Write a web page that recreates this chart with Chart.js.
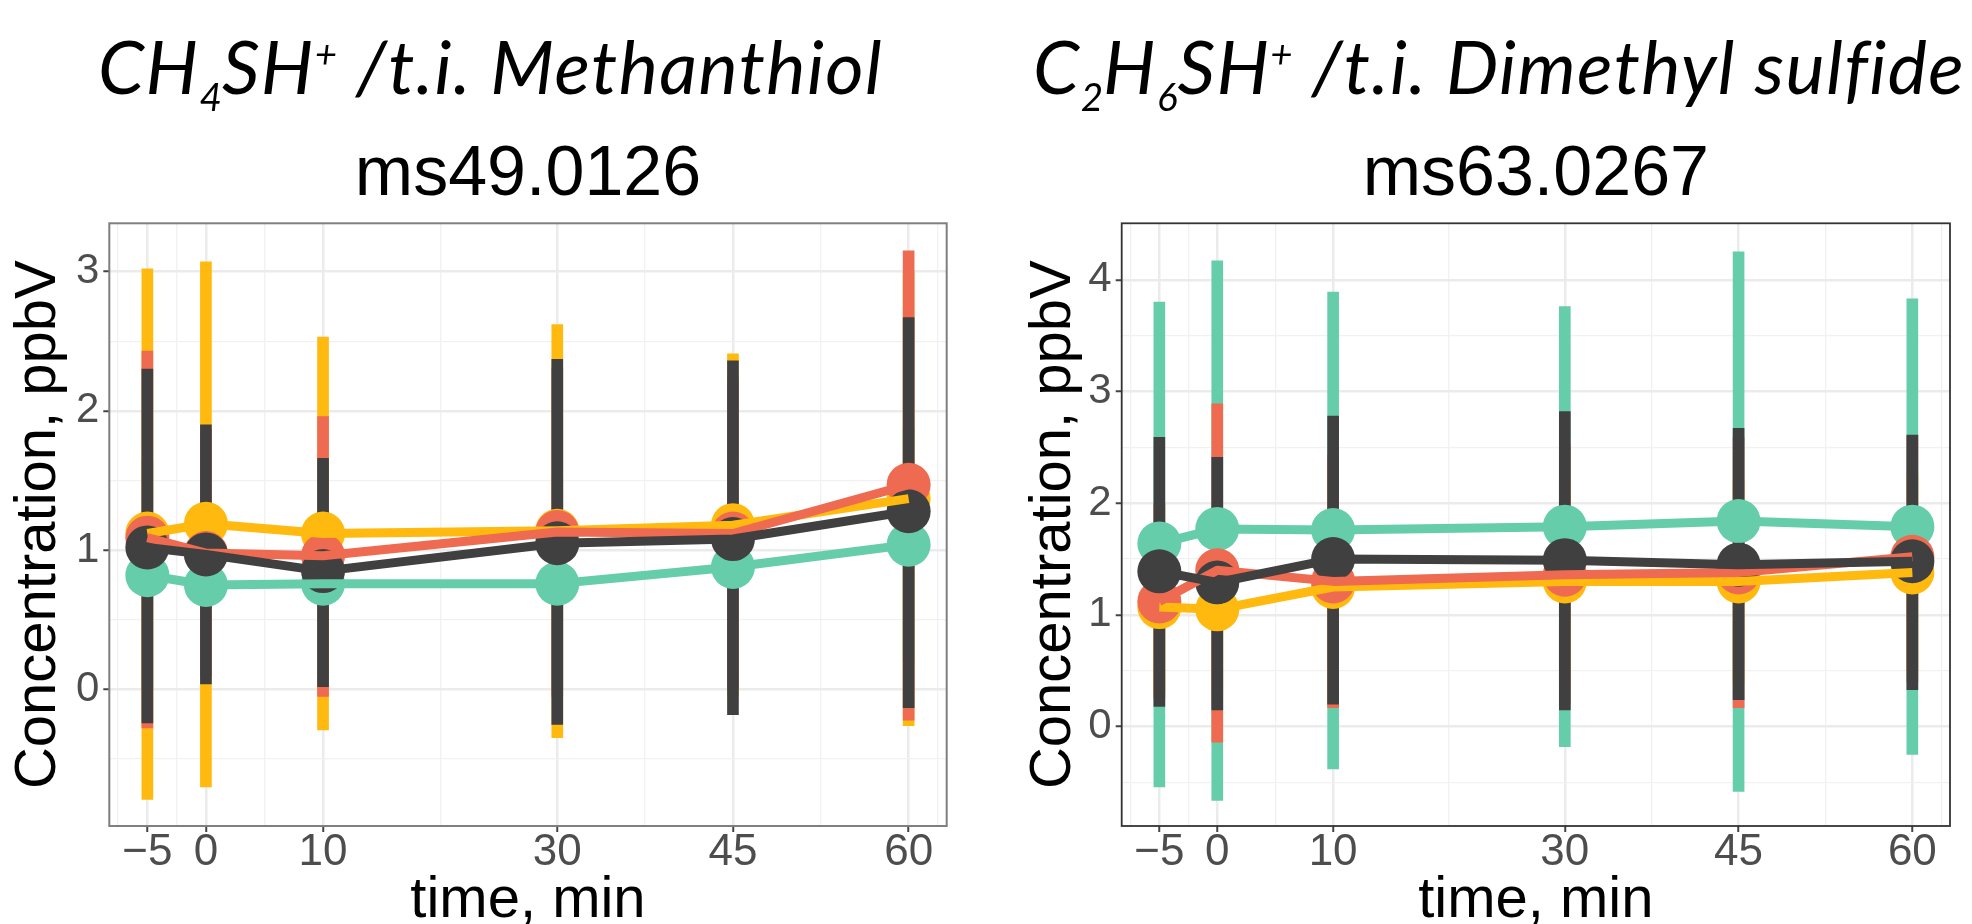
<!DOCTYPE html>
<html>
<head>
<meta charset="utf-8">
<script src="https://cdn.jsdelivr.net/npm/chart.js@4.4.1/dist/chart.umd.min.js"></script>
<style>
  html, body { margin: 0; padding: 0; background: #fff; }
  body { width: 1972px; height: 924px; position: relative; overflow: hidden; }
  .panel { position: absolute; top: 0; width: 986px; height: 924px; }
  .panel canvas { position: absolute; left: 0; top: 0; }
  .heading {
    position: absolute; top: 29px; z-index: 2;
    font: italic 74px Lato, "Open Sans", sans-serif; line-height: 74px;
    letter-spacing: 1.4px; white-space: nowrap; color: #000;
  }
  .heading sub, .heading sup { font-size: 0.52em; line-height: 0; position: relative; vertical-align: baseline; letter-spacing: 0; }
  .heading sub { top: 17px; }
  .heading sup { top: -26px; }
</style>
</head>
<body>
<div class="panel" style="left:0">
  <canvas id="chart49" width="986" height="924"></canvas>
  <div class="heading" style="left:98px">CH<sub>4</sub>SH<sup>+</sup> /t.i. Methanthiol</div>
</div>
<div class="panel" style="left:986px">
  <canvas id="chart63" width="986" height="924"></canvas>
  <div class="heading" style="left:47px">C<sub>2</sub>H<sub>6</sub>SH<sup>+</sup> /t.i. Dimethyl sulfide</div>
</div>
<script>
// time points and axis breaks
const times = [-5, 0, 10, 30, 45, 60];
const xMajorTicks = [-5, 0, 10, 30, 45, 60];
const xMinorTicks = [-7.5, -2.5, 5, 20, 37.5, 52.5, 62.5];

const y49Major = [0, 1, 2, 3];
const y49Minor = [-0.5, 0.5, 1.5, 2.5];
const y63Major = [0, 1, 2, 3, 4];
const y63Minor = [-0.5, 0.5, 1.5, 2.5, 3.5];

// series colours, in drawing order (last one on top)
const seriesColors = ['#66CDAA', '#FFB90F', '#EE6A50', '#404040'];

// ms49.0126 - means and error bar ends
const ms49TealMean = [0.82, 0.75, 0.76, 0.76, 0.88, 1.04];
const ms49TealLo   = [0.00, 0.10, 0.00, 0.00, 0.10, 0.20];
const ms49TealHi   = [1.64, 1.40, 1.52, 1.52, 1.66, 1.88];
const ms49YellowMean = [1.12, 1.19, 1.12, 1.14, 1.18, 1.37];
const ms49YellowLo   = [-0.79, -0.70, -0.29, -0.345, -0.05, -0.26];
const ms49YellowHi   = [3.02, 3.07, 2.53, 2.62, 2.41, 3.00];
const ms49RedMean = [1.09, 0.98, 0.96, 1.13, 1.12, 1.47];
const ms49RedLo   = [-0.275, 0.10, -0.05, -0.05, 0.00, -0.22];
const ms49RedHi   = [2.43, 1.86, 1.96, 2.31, 2.24, 3.15];
const ms49DarkMean = [1.02, 0.97, 0.85, 1.05, 1.08, 1.28];
const ms49DarkLo   = [-0.24, 0.04, 0.02, -0.25, -0.18, -0.13];
const ms49DarkHi   = [2.30, 1.90, 1.66, 2.37, 2.36, 2.67];

// ms63.0267
const ms63TealMean = [1.64, 1.77, 1.76, 1.79, 1.84, 1.79];
const ms63TealLo   = [-0.54, -0.66, -0.38, -0.18, -0.58, -0.25];
const ms63TealHi   = [3.80, 4.17, 3.89, 3.76, 4.25, 3.83];
const ms63YellowMean = [1.07, 1.05, 1.25, 1.30, 1.30, 1.38];
const ms63YellowLo   = [0.30, 0.30, 0.40, 0.40, 0.40, 0.50];
const ms63YellowHi   = [1.84, 1.80, 2.10, 2.20, 2.20, 2.26];
const ms63RedMean = [1.12, 1.40, 1.30, 1.36, 1.38, 1.52];
const ms63RedLo   = [0.25, -0.14, 0.17, 0.20, 0.17, 0.40];
const ms63RedHi   = [1.99, 2.89, 2.43, 2.52, 2.59, 2.60];
const ms63DarkMean = [1.39, 1.29, 1.50, 1.49, 1.45, 1.48];
const ms63DarkLo   = [0.18, 0.15, 0.20, 0.15, 0.24, 0.33];
const ms63DarkHi   = [2.59, 2.41, 2.78, 2.82, 2.67, 2.61];

const FONT = '"Liberation Sans", Arial, sans-serif';

// frame around the plot panel (like ggplot's panel.border)
function borderPlugin(color, width) {
  return {
    id: 'panelBorder',
    afterDraw(chart) {
      const a = chart.chartArea, ctx = chart.ctx;
      ctx.save();
      ctx.strokeStyle = color;
      ctx.lineWidth = width;
      ctx.strokeRect(a.left, a.top, a.right - a.left, a.bottom - a.top);
      ctx.restore();
    }
  };
}

function buildDatasets(series) {
  const sets = [];
  series.forEach((s, i) => {
    const color = seriesColors[i];
    // error bars as floating bars
    sets.push({
      type: 'bar',
      data: times.map((t, k) => ({ x: t, y: [s.lo[k], s.hi[k]] })),
      backgroundColor: color,
      barThickness: 11,
      grouped: false,
      borderWidth: 0,
      order: 300 - i
    });
    // points
    sets.push({
      type: 'line',
      data: times.map((t, k) => ({ x: t, y: s.mean[k] })),
      showLine: false,
      pointRadius: 22,
      pointHoverRadius: 22,
      pointBackgroundColor: color,
      pointBorderWidth: 0,
      order: 200 - i
    });
    // connecting lines
    sets.push({
      type: 'line',
      data: times.map((t, k) => ({ x: t, y: s.mean[k] })),
      borderColor: color,
      borderWidth: 9,
      borderJoinStyle: 'round',
      pointRadius: 0,
      fill: false,
      order: 100 - i
    });
  });
  return sets;
}

function gridScale(majors, minors) {
  const isMajor = ctx => ctx.tick !== undefined && majors.includes(ctx.tick.value);
  return {
    afterBuildTicks: scale => {
      scale.ticks = majors.concat(minors).sort((a, b) => a - b).map(v => ({ value: v }));
    },
    color: ctx => isMajor(ctx) ? '#EBEBEB' : '#F1F1F1',
    lineWidth: ctx => isMajor(ctx) ? 2.5 : 1.3,
    tickColor: ctx => isMajor(ctx) ? '#444444' : 'rgba(0,0,0,0)'
  };
}

function makeChart(id, cfg) {
  const xg = gridScale(xMajorTicks, xMinorTicks);
  const yg = gridScale(cfg.yMajor, cfg.yMinor);
  return new Chart(document.getElementById(id), {
    type: 'line',
    data: { datasets: buildDatasets(cfg.series) },
    options: {
      responsive: false,
      devicePixelRatio: 1,
      animation: false,
      layout: { padding: cfg.padding },
      plugins: {
        legend: { display: false },
        tooltip: { enabled: false },
        title: {
          display: true,
          text: cfg.title,
          fullSize: false,
          color: '#000',
          font: { family: FONT, size: 70, weight: 'normal', lineHeight: 1.2 },
          padding: { top: 133.7, bottom: 5.6 }
        }
      },
      scales: {
        x: {
          type: 'linear',
          min: -8.25, max: 63.25,
          offset: false,
          afterBuildTicks: xg.afterBuildTicks,
          afterFit: scale => { scale.height = 98; },
          border: { display: false },
          grid: { offset: false, color: xg.color, lineWidth: xg.lineWidth, tickColor: xg.tickColor, tickLength: 6, tickWidth: 2 },
          ticks: {
            autoSkip: false, maxRotation: 0, padding: -1, color: '#4D4D4D',
            font: { family: FONT, size: 44, lineHeight: 1 },
            callback: v => xMajorTicks.includes(v) ? String(v).replace('-', '\u2212') : ''
          },
          title: {
            display: true, text: 'time, min', color: '#000',
            font: { family: FONT, size: 58, lineHeight: 0.8 },
            padding: 0
          }
        },
        y: {
          min: cfg.yMin, max: cfg.yMax,
          afterBuildTicks: yg.afterBuildTicks,
          afterFit: scale => { scale.width = cfg.yWidth; },
          border: { display: false },
          grid: { offset: false, color: yg.color, lineWidth: yg.lineWidth, tickColor: yg.tickColor, tickLength: 6, tickWidth: 2 },
          ticks: {
            autoSkip: false, padding: 4, color: '#4D4D4D',
            font: { family: FONT, size: 42, lineHeight: 1 },
            callback: v => cfg.yMajor.includes(v) ? String(v) : ''
          },
          title: {
            display: true, text: 'Concentration, ppbV', color: '#000',
            font: { family: FONT, size: 58, lineHeight: 1.2 },
            padding: { top: 4, bottom: 0 }
          }
        }
      }
    },
    plugins: [borderPlugin(cfg.borderColor, cfg.borderWidth)]
  });
}

makeChart('chart49', {
  title: 'ms49.0126',
  yMin: -0.98, yMax: 3.347,
  yMajor: y49Major, yMinor: y49Minor,
  yWidth: 109.3,
  padding: { left: 0, right: 39.3, top: 0, bottom: 0 },
  borderColor: '#7F7F7F', borderWidth: 2,
  series: [
    { mean: ms49TealMean, lo: ms49TealLo, hi: ms49TealHi },
    { mean: ms49YellowMean, lo: ms49YellowLo, hi: ms49YellowHi },
    { mean: ms49RedMean, lo: ms49RedLo, hi: ms49RedHi },
    { mean: ms49DarkMean, lo: ms49DarkLo, hi: ms49DarkHi }
  ]
});

makeChart('chart63', {
  title: 'ms63.0267',
  yMin: -0.89, yMax: 4.506,
  yMajor: y63Major, yMinor: y63Minor,
  yWidth: 106.7,
  padding: { left: 29, right: 12.7, top: 0, bottom: 0 },
  borderColor: '#333333', borderWidth: 1.8,
  series: [
    { mean: ms63TealMean, lo: ms63TealLo, hi: ms63TealHi },
    { mean: ms63YellowMean, lo: ms63YellowLo, hi: ms63YellowHi },
    { mean: ms63RedMean, lo: ms63RedLo, hi: ms63RedHi },
    { mean: ms63DarkMean, lo: ms63DarkLo, hi: ms63DarkHi }
  ]
});
</script>
</body>
</html>
